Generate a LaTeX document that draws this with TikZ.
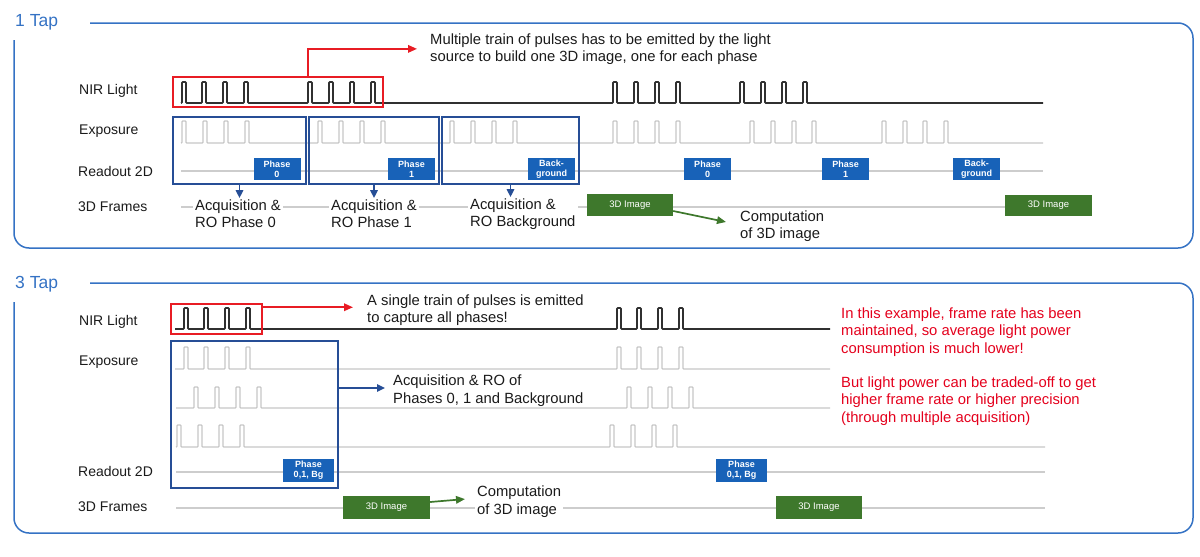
\documentclass[tikz,border=0pt]{standalone}
\usepackage{fontspec}
\setmainfont{Liberation Sans}
\usetikzlibrary{arrows.meta}
\definecolor{panelblue}{RGB}{52,114,196}
\definecolor{acqblue}{RGB}{38,78,150}
\definecolor{phaseblue}{RGB}{24,98,184}
\definecolor{imggreen}{RGB}{62,120,44}
\definecolor{redline}{RGB}{232,28,36}
\definecolor{rednote}{RGB}{228,0,28}
\definecolor{nirgray}{RGB}{48,48,48}
\definecolor{expgray}{RGB}{198,198,198}
\definecolor{tlgray}{RGB}{205,205,205}
\definecolor{txt}{RGB}{26,26,26}
\newcommand\pulsetrain[6]{\draw[#1] (#4,#2) foreach \p in {#6} { -- (\p,#2) -- (\p,#3) -- (\p+4,#3) -- (\p+4,#2) } -- (#5,#2);}
\begin{document}
\begin{tikzpicture}[x=1pt,y=-1pt,
  frame/.style={draw=panelblue,line width=1.5pt,rounded corners=15pt},
  tap/.style={anchor=base west,inner sep=0pt,text=panelblue,font=\fontsize{17.5}{20}\selectfont},
  lbl/.style={anchor=base west,inner sep=0pt,text=txt,font=\fontsize{14}{16}\selectfont},
  note/.style={anchor=base west,align=left,inner xsep=2pt,inner ysep=1pt,fill=white,text=txt,font=\fontsize{14.8}{17.4}\selectfont},
  rnote/.style={anchor=base west,align=left,inner sep=0pt,text=rednote,font=\fontsize{14.8}{17.3}\selectfont},
  nir/.style={draw=nirgray,line width=1.6pt,rounded corners=0.8pt},
  expo/.style={draw=expgray,line width=1.3pt,rounded corners=0.8pt},
  tline/.style={draw=tlgray,line width=1.2pt},
  phase/.style={fill=phaseblue,text=white,align=center,inner sep=0pt,font=\bfseries\fontsize{9}{9.8}\selectfont},
  img/.style={fill=imggreen,text=white,inner sep=0pt,font=\fontsize{9.5}{10}\selectfont},
  acq/.style={draw=acqblue,line width=1.5pt,inner sep=0pt},
  redbox/.style={draw=redline,line width=1.5pt,inner sep=0pt},
  redarr/.style={draw=redline,line width=1.7pt,-{Triangle[length=9pt,width=7.5pt]}},
  bluearr/.style={draw=acqblue,line width=1.6pt,-{Triangle[length=8pt,width=7.5pt]}},
  greenarr/.style={draw=imggreen,line width=1.7pt,-{Triangle[length=9pt,width=7.5pt]}}]
\useasboundingbox (0,0) rectangle (1200,557);

% ---------------- 1 Tap panel ----------------
\draw[frame] (90,23) -- (1193,23) -- (1193,248) -- (14,248) -- (14,40);
\node[tap] (tap1) at (15,26.6) {1 Tap};
\node[lbl] (l1nir) at (79,94.3) {NIR Light};
\node[lbl] (l1exp) at (79,134.5) {Exposure};
\node[lbl] (l1ro) at (78,176.7) {Readout 2D};
\node[lbl] (l1fr) at (78,211.7) {3D Frames};

% timelines
\draw[tline] (181,171) -- (1043,171);
\draw[tline] (181,207) -- (1043,207);
\pulsetrain{nir}{103}{82}{181}{1043}{182,202,223,244,308,329,350,371,613,634,655,676,740,761,782,803}
\pulsetrain{expo}{143}{121}{181}{1043}{182,203,224,245,318,339,360,381,450,471,492,513,613,634,655,676,750,771,792,812,882,903,923,944}

% readout boxes
\node[phase,minimum width=47,minimum height=22] (p1a) at (277,169) {Phase\\0};
\node[phase,minimum width=47,minimum height=22] (p1b) at (411.5,169) {Phase\\1};
\node[phase,minimum width=47,minimum height=22] (p1c) at (551.5,169) {Back-\\ground};
\node[phase,minimum width=47,minimum height=22] (p1d) at (707.5,169) {Phase\\0};
\node[phase,minimum width=47,minimum height=22] (p1e) at (845.5,169) {Phase\\1};
\node[phase,minimum width=47,minimum height=22] (p1f) at (976.5,169) {Back-\\ground};

% acquisition boxes
\node[acq,minimum width=133,minimum height=67] (acq1) at (239.5,150.5) {};
\node[acq,minimum width=130,minimum height=67] (acq2) at (374,150.5) {};
\node[acq,minimum width=137,minimum height=67] (acq3) at (510.5,150.5) {};

% red highlight
\node[redbox,minimum width=210,minimum height=30] (rbox1) at (278,92) {};
\node[note,fill=none] (tMulti) at (428,61.4) {Multiple train of pulses has to be emitted by the light\\source to build one 3D image, one for each phase};
\draw[redarr,shorten >=11pt] ([xshift=30pt]rbox1.north) |- (tMulti.west);

% acquisition texts
\node[note] (ta1) at (193,227.4) {Acquisition \&\\RO Phase 0};
\node[note] (ta2) at (329,227.4) {Acquisition \&\\RO Phase 1};
\node[note] (ta3) at (468,226.4) {Acquisition \&\\RO Background};
\draw[bluearr] (acq1.south) -- (acq1.south |- ta1.north);
\draw[bluearr] (acq2.south) -- (acq2.south |- ta2.north);
\draw[bluearr] (acq3.south) -- (acq3.south |- ta3.north);

% 3D images
\node[img,minimum width=86,minimum height=22] (g1) at (630,205) {3D Image};
\node[img,minimum width=87,minimum height=21] (g2) at (1048.5,205.5) {3D Image};
\node[note,fill=none] (comp1) at (738,238.5) {Computation\\of 3D image};
\draw[greenarr] ([yshift=-6pt]g1.east) -- ([xshift=-12pt,yshift=4pt]comp1.west);

% ---------------- 3 Tap panel ----------------
\draw[frame] (90,283) -- (1193,283) -- (1193,533) -- (14,533) -- (14,302);
\node[tap] (tap3) at (15,288.6) {3 Tap};
\node[lbl] (l3nir) at (79,325) {NIR Light};
\node[lbl] (l3exp) at (79,365.7) {Exposure};
\node[lbl] (l3ro) at (78,476.7) {Readout 2D};
\node[lbl] (l3fr) at (78,511.7) {3D Frames};

\draw[tline] (176,472) -- (1045,472);
\draw[tline] (176,508) -- (1045,508);
\pulsetrain{nir}{329}{308}{175}{830}{184,204,225,246,617,637,658,679}
\pulsetrain{expo}{369}{347}{175}{830}{184,204,225,246,617,637,658,679}
\pulsetrain{expo}{408}{387}{176}{830}{194,215,236,257,627,648,668,689}
\pulsetrain{expo}{447}{425}{176}{1045}{177,198,219,240,610,631,652,673}

\node[phase,minimum width=51,minimum height=23] (p3a) at (308.5,470.5) {Phase\\0,1, Bg};
\node[phase,minimum width=51,minimum height=23] (p3b) at (741.5,470.5) {Phase\\0,1, Bg};

\node[acq,minimum width=167,minimum height=147] (acqB) at (254.5,414.5) {};
\node[note,fill=none] (tAcqB) at (391,403.1) {Acquisition \& RO of\\Phases 0, 1 and Background};
\coordinate (abStart) at ([yshift=26.5pt]acqB.east);
\draw[bluearr,shorten >=6pt] (abStart) -- (abStart -| tAcqB.west);

\node[redbox,minimum width=91,minimum height=30] (rbox2) at (216.5,319) {};
\node[note,fill=none] (tSingle) at (365,322.4) {A single train of pulses is emitted\\to capture all phases!};
\coordinate (rbStart) at ([yshift=-4pt]rbox2.north east);
\draw[redarr,shorten >=12pt] (rbStart) -- (rbStart -| tSingle.west);

\node[img,minimum width=87,minimum height=23] (g3) at (386.5,507.5) {3D Image};
\node[img,minimum width=86,minimum height=23] (g4) at (819,507.5) {3D Image};
\node[note] (comp2) at (475,514.1) {Computation\\of 3D image};
\draw[greenarr] ([yshift=5.5pt]g3.east) -- ([xshift=-10pt,yshift=2.5pt]comp2.west);

\node[rnote] (red1) at (841,353) {In this example, frame rate has been\\maintained, so average light power\\consumption is much lower!};
\node[rnote] (red2) at (841,422) {But light power can be traded-off to get\\higher frame rate or higher precision\\(through multiple acquisition)};
\end{tikzpicture}
\end{document}
